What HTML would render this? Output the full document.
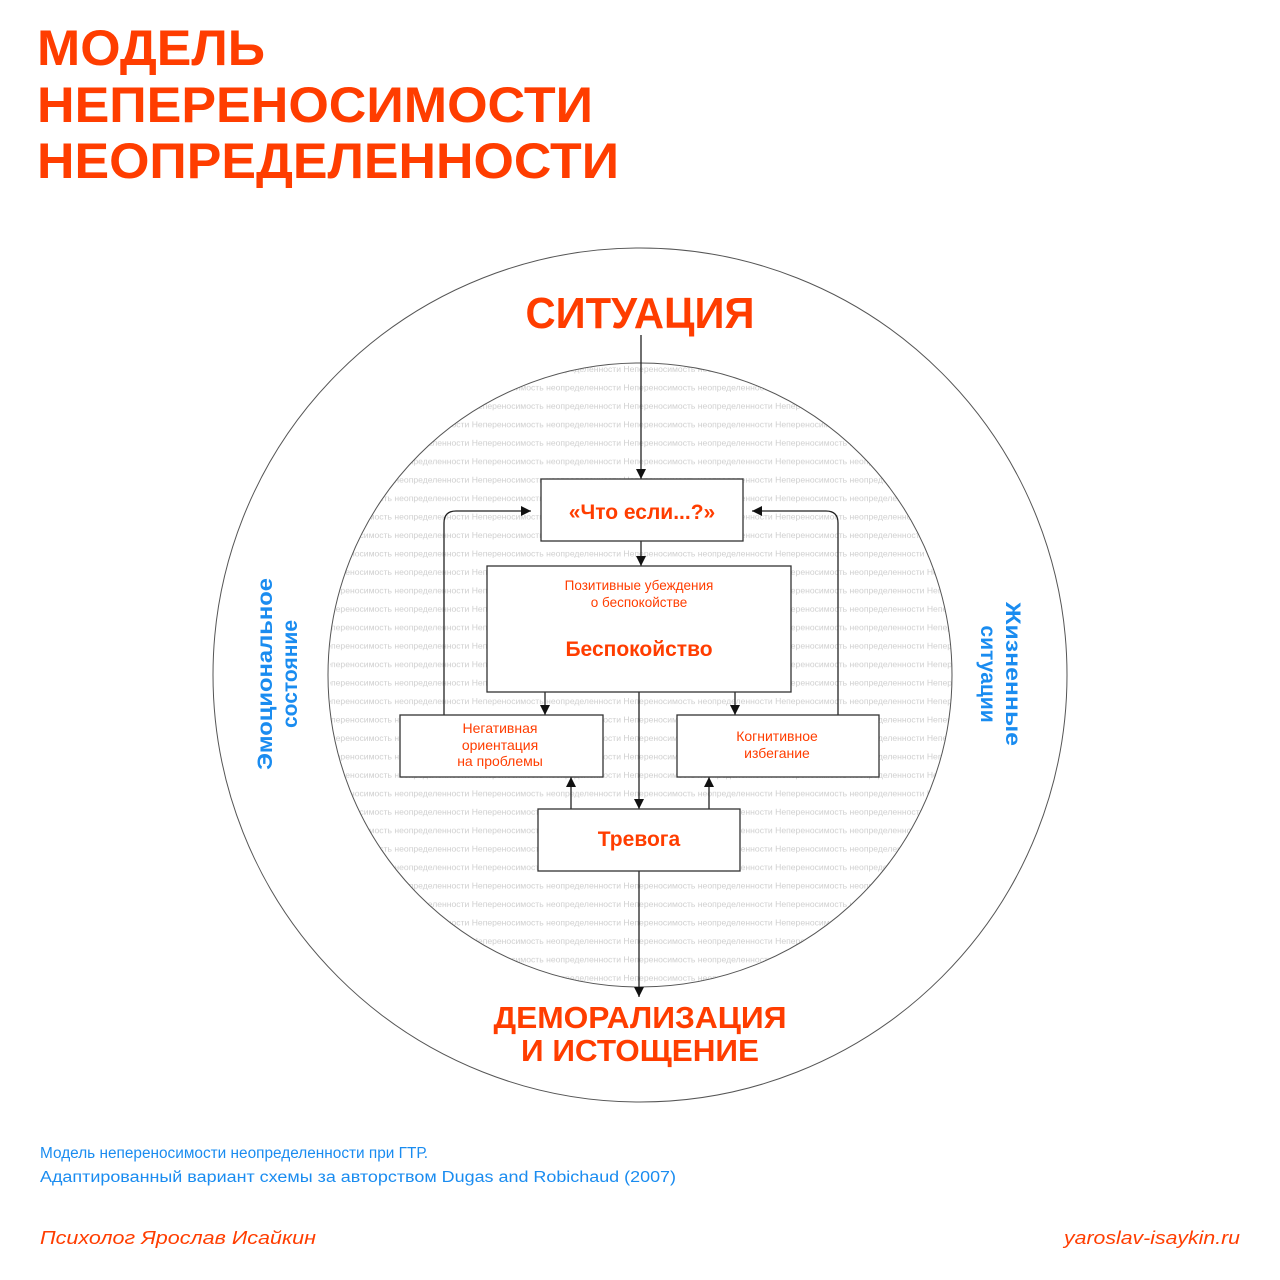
<!DOCTYPE html>
<html><head><meta charset="utf-8"><style>
html,body{margin:0;padding:0;background:#fff;width:1280px;height:1280px;overflow:hidden}
svg{display:block}
</style></head><body>
<svg width="1280" height="1280" viewBox="0 0 1280 1280" xmlns="http://www.w3.org/2000/svg" font-family="Liberation Sans, sans-serif">
<defs>
<pattern id="wm" x="330" y="362" width="820" height="18.45" patternUnits="userSpaceOnUse">
<text x="-10" y="10" font-size="8.6" fill="#cfcfcf">Непереносимость неопределенности Непереносимость неопределенности Непереносимость неопределенности Непереносимость неопределенности Непереносимость неопределенности</text>
</pattern>
<marker id="ar" viewBox="0 0 10 10" refX="10" refY="5" markerWidth="10" markerHeight="10" markerUnits="userSpaceOnUse" orient="auto"><path d="M0,0 L10,5 L0,10 z" fill="#111"/></marker>
</defs>
<g fill="#ff3d00" font-weight="bold" font-size="50">
<text x="37" y="65" textLength="228" lengthAdjust="spacingAndGlyphs">МОДЕЛЬ</text>
<text x="37" y="122" textLength="556" lengthAdjust="spacingAndGlyphs">НЕПЕРЕНОСИМОСТИ</text>
<text x="37" y="178" textLength="582" lengthAdjust="spacingAndGlyphs">НЕОПРЕДЕЛЕННОСТИ</text>
</g>
<circle cx="640" cy="675" r="427" fill="none" stroke="#555" stroke-width="1"/>
<circle cx="640" cy="675" r="312" fill="url(#wm)" stroke="#555" stroke-width="1"/>
<text x="640" y="328" text-anchor="middle" fill="#ff3d00" font-weight="bold" font-size="44" textLength="229" lengthAdjust="spacingAndGlyphs">СИТУАЦИЯ</text>
<g stroke="#222" stroke-width="1.3" fill="none">
<line x1="641" y1="335" x2="641" y2="479" marker-end="url(#ar)"/>
<line x1="641" y1="541" x2="641" y2="566" marker-end="url(#ar)"/>
<line x1="545" y1="692" x2="545" y2="715" marker-end="url(#ar)"/>
<line x1="735" y1="692" x2="735" y2="715" marker-end="url(#ar)"/>
<line x1="639" y1="692" x2="639" y2="809" marker-end="url(#ar)"/>
<line x1="571" y1="809" x2="571" y2="777" marker-end="url(#ar)"/>
<line x1="709" y1="809" x2="709" y2="777" marker-end="url(#ar)"/>
<line x1="639" y1="871" x2="639" y2="997" marker-end="url(#ar)"/>
<path d="M444,715 L444,523 Q444,511 456,511 L531,511" marker-end="url(#ar)"/>
<path d="M838,715 L838,523 Q838,511 826,511 L752,511" marker-end="url(#ar)"/>
</g>
<g fill="#fff" stroke="#333" stroke-width="1.3">
<rect x="541" y="479" width="202" height="62"/>
<rect x="487" y="566" width="304" height="126"/>
<rect x="400" y="715" width="203" height="62"/>
<rect x="677" y="715" width="202" height="62"/>
<rect x="538" y="809" width="202" height="62"/>
</g>
<g fill="#ff3d00" text-anchor="middle">
<text x="642" y="519" font-size="21" font-weight="bold">«Что если...?»</text>
<text x="639" y="590" font-size="13.5">Позитивные убеждения</text>
<text x="639" y="607" font-size="13.5">о беспокойстве</text>
<text x="639" y="656" font-size="21" font-weight="bold">Беспокойство</text>
<text x="500" y="733" font-size="14">Негативная</text>
<text x="500" y="750" font-size="14">ориентация</text>
<text x="500" y="766" font-size="14">на проблемы</text>
<text x="777" y="741" font-size="14">Когнитивное</text>
<text x="777" y="758" font-size="14">избегание</text>
<text x="639" y="846" font-size="21" font-weight="bold">Тревога</text>
<text x="640" y="1028" font-size="31" font-weight="bold" textLength="293" lengthAdjust="spacingAndGlyphs">ДЕМОРАЛИЗАЦИЯ</text>
<text x="640" y="1061" font-size="31" font-weight="bold" textLength="238" lengthAdjust="spacingAndGlyphs">И ИСТОЩЕНИЕ</text>
</g>
<g fill="#1a8cf0" font-weight="bold" font-size="21" text-anchor="middle">
<text transform="translate(272,674) rotate(-90)" textLength="192" lengthAdjust="spacingAndGlyphs">Эмоциональное</text>
<text transform="translate(297,674) rotate(-90)">состояние</text>
<text transform="translate(1006,674) rotate(90)" textLength="144" lengthAdjust="spacingAndGlyphs">Жизненные</text>
<text transform="translate(981,674) rotate(90)">ситуации</text>
</g>
<g fill="#1a8cf0" font-size="15.5">
<text x="40" y="1158" textLength="388" lengthAdjust="spacingAndGlyphs">Модель непереносимости неопределенности при ГТР.</text>
<text x="40" y="1182" textLength="636" lengthAdjust="spacingAndGlyphs">Адаптированный вариант схемы за авторством Dugas and Robichaud (2007)</text>
</g>
<g fill="#ff3d00" font-size="18" font-style="italic">
<text x="40" y="1244" textLength="276" lengthAdjust="spacingAndGlyphs">Психолог Ярослав Исайкин</text>
<text x="1064" y="1244" textLength="176" lengthAdjust="spacingAndGlyphs">yaroslav-isaykin.ru</text>
</g>
</svg>
</body></html>
